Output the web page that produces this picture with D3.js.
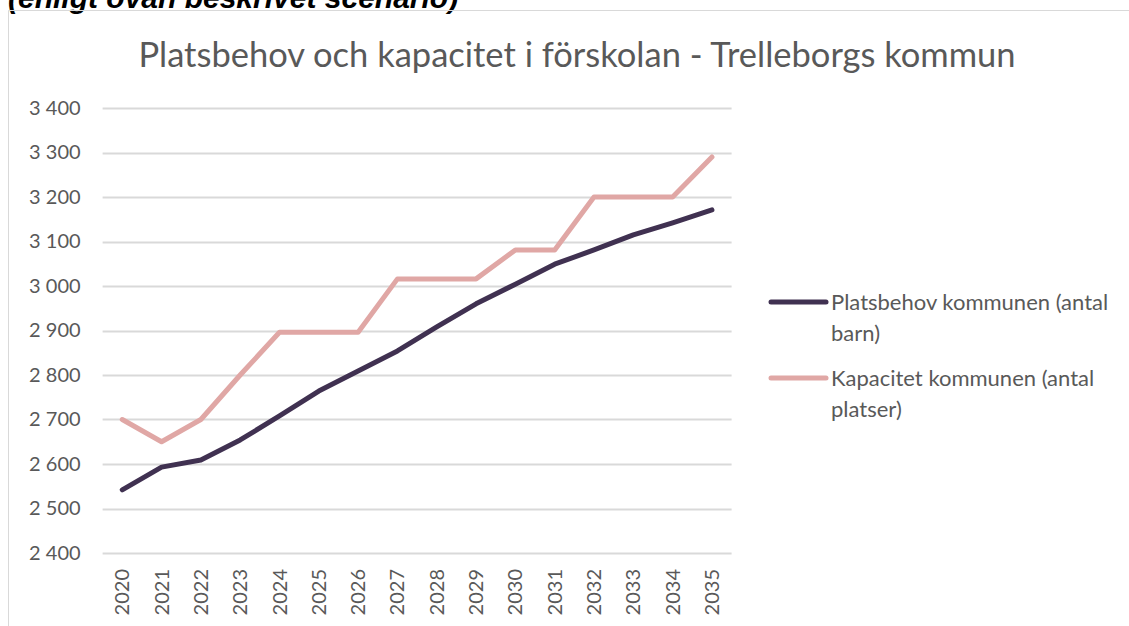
<!DOCTYPE html>
<html>
<head>
<meta charset="utf-8">
<script src="https://cdn.jsdelivr.net/npm/d3@7"></script>
<style>
  body { margin: 0; background: #fff; }
  svg { display: block; font-family: Lato, "Open Sans", sans-serif; }
</style>
</head>
<body>
<div class="svgcont"></div>
<script>
const years = ["2020","2021","2022","2023","2024","2025","2026","2027","2028","2029","2030","2031","2032","2033","2034","2035"];
const platsbehov = [2542, 2593, 2609, 2654, 2708, 2764, 2809, 2854, 2908, 2960, 3004, 3049, 3081, 3115, 3142, 3171];
const kapacitet = [2700, 2650, 2700, 2800, 2896, 2896, 2896, 3016, 3016, 3016, 3081, 3081, 3200, 3200, 3200, 3290];
const yTicks = [2400, 2500, 2600, 2700, 2800, 2900, 3000, 3100, 3200, 3300, 3400];
const seriesNames = ["Platsbehov kommunen (antal|barn)", "Kapacitet kommunen (antal|platser)"];

const w = 1129;
const h = 626;
const colors = ["#403151", "#e0a7a5"];

let svg = d3.select(".svgcont").append("svg")
  .attr("width", w)
  .attr("height", h);

// caption from the page above, cut off at the top
svg.append("text")
  .attr("x", 8)
  .attr("y", 8)
  .style("font-family", "'Liberation Sans', Arial, sans-serif")
  .style("font-weight", "bold")
  .style("font-style", "italic")
  .style("font-size", "30px")
  .style("fill", "#000")
  .text("(enligt ovan beskrivet scenario)");

// chart frame
svg.append("path")
  .attr("d", "M8.5," + (h + 5) + "V10.5H" + (w + 5))
  .style("fill", "none")
  .style("stroke", "#d9d9d9")
  .style("stroke-width", 1);

svg.append("text")
  .attr("x", 577)
  .attr("y", 67)
  .attr("text-anchor", "middle")
  .style("font-size", "34.5px")
  .style("fill", "#595959")
  .text("Platsbehov och kapacitet i förskolan - Trelleborgs kommun");

const pLeft = 102.6, pRight = 731.6, pTop = 108, pBottom = 553;

const xScale = d3.scaleBand().domain(years).range([pLeft, pRight]);
const yScale = d3.scaleLinear().domain([2400, 3400]).range([pBottom, pTop]);

// gridlines
svg.append("g")
  .selectAll("line")
  .data(yTicks)
  .enter()
  .append("line")
  .attr("x1", pLeft)
  .attr("x2", pRight)
  .attr("y1", d => Math.round(yScale(d)) + 0.5)
  .attr("y2", d => Math.round(yScale(d)) + 0.5)
  .style("stroke", "#d9d9d9")
  .style("stroke-width", 2);

const fmt = d => d3.format(",")(d).replace(",", " ");

const yAxis = d3.axisLeft(yScale).tickValues(yTicks).tickFormat(fmt).tickSize(0).tickPadding(22);
let gy = svg.append("g").attr("transform", `translate(${pLeft},0)`).call(yAxis);
gy.select(".domain").remove();
gy.selectAll("text").style("font-size", "20px").style("fill", "#595959").style("font-family", "Lato, sans-serif");

const xAxis = d3.axisBottom(xScale).tickSize(0).tickPadding(0);
let gx = svg.append("g").attr("transform", `translate(0,${pBottom})`).call(xAxis);
gx.select(".domain").remove();
gx.selectAll("text")
  .attr("transform", "rotate(-90)")
  .attr("x", -16)
  .attr("y", 0)
  .attr("dy", "0.35em")
  .attr("text-anchor", "end")
  .style("font-size", "20px")
  .style("fill", "#595959")
  .style("font-family", "Lato, sans-serif");

const line = d3.line()
  .x((d, i) => xScale(years[i]) + xScale.bandwidth() / 2)
  .y(d => yScale(d));

[kapacitet, platsbehov].forEach((s, k) => {
  svg.append("path")
    .datum(s)
    .attr("d", line)
    .style("fill", "none")
    .style("stroke", colors[1 - k])
    .style("stroke-width", 5)
    .style("stroke-linecap", "round")
    .style("stroke-linejoin", "round");
});

// legend
let legend = svg.append("g");
seriesNames.forEach((name, i) => {
  const y0 = 302 + i * 76;
  legend.append("line")
    .attr("x1", 771).attr("x2", 826)
    .attr("y1", y0).attr("y2", y0)
    .style("stroke", colors[i])
    .style("stroke-width", 5)
    .style("stroke-linecap", "round");
  name.split("|").forEach((t, j) => {
    legend.append("text")
      .attr("x", 831)
      .attr("y", y0 + j * 31)
      .attr("dy", "0.35em")
      .style("font-size", "22px")
      .style("fill", "#595959")
      .text(t);
  });
});
</script>
</body>
</html>
